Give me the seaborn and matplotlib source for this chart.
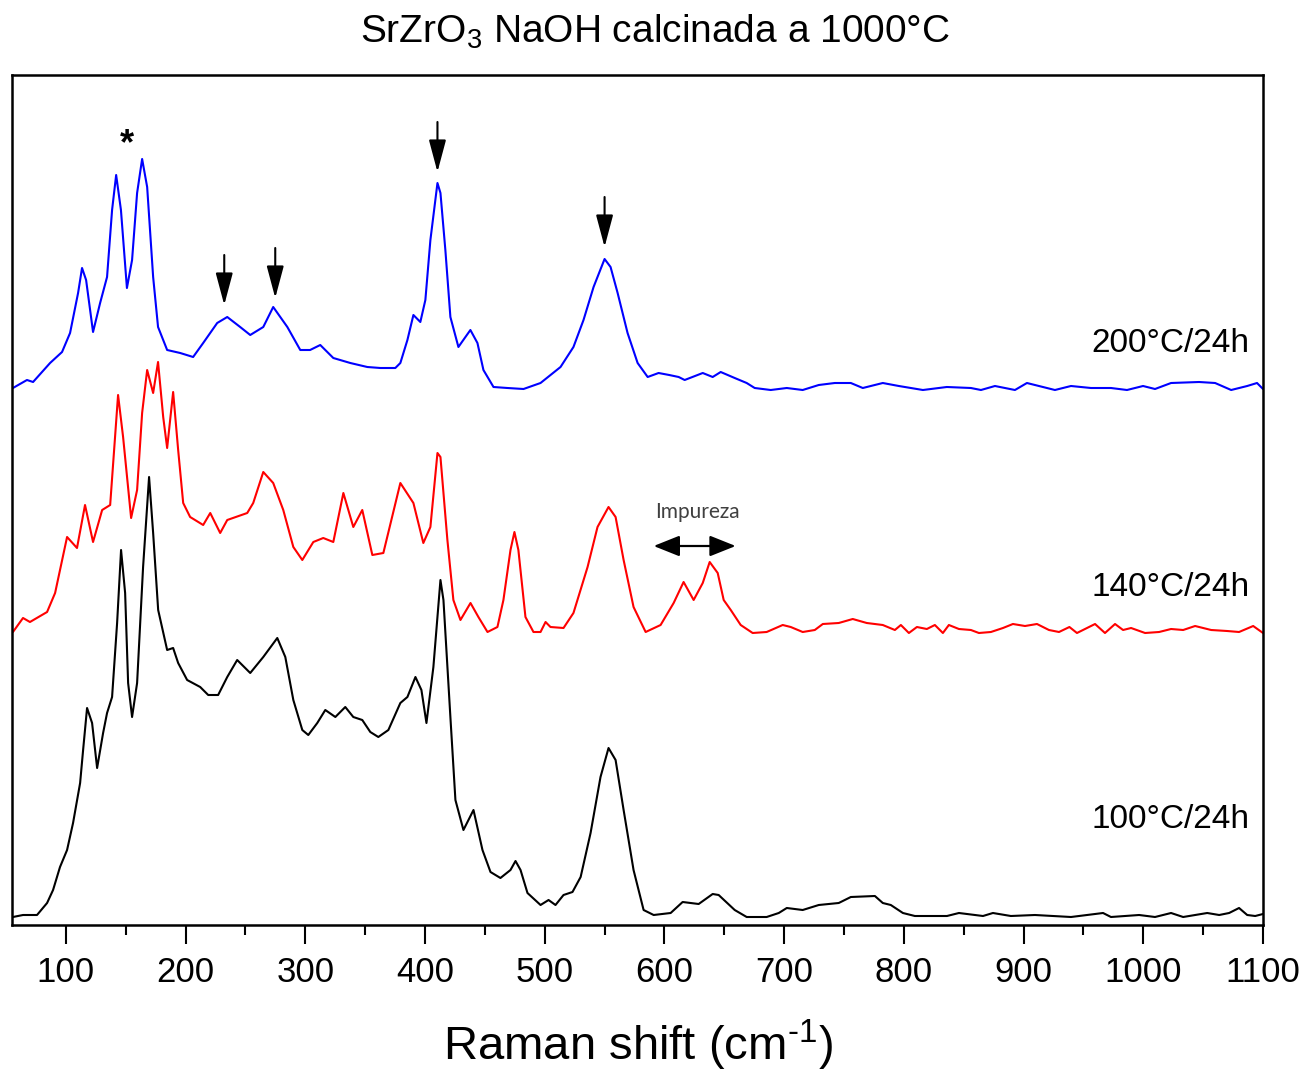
import numpy as np
import pandas as pd
import matplotlib
matplotlib.use("Agg")
import matplotlib.pyplot as plt
import seaborn as sns

# Raman spectra (Raman shift in cm-1, intensity in a.u. before stacking offset)
spec_200 = [
    (55.8, 7), (67.5, 15), (72.6, 13), (86.8, 32), (96.8, 43), (103.5, 62), (110.2, 102),
    (113.5, 127), (116.9, 115), (122.7, 63), (128.6, 92), (134.4, 118), (138.6, 185),
    (142.0, 220), (146.0, 185), (151.0, 107), (155.3, 135), (159.5, 202), (163.7, 236),
    (167.9, 208), (172.9, 118), (177.0, 68), (184.6, 45), (195.5, 42), (206.3, 38),
    (214.7, 52), (226.4, 72), (234.8, 78), (245.6, 68), (254.0, 60), (264.9, 68),
    (273.2, 88), (285.0, 68), (295.8, 45), (304.0, 45), (312.5, 50), (323.4, 37),
    (337.6, 32), (351.8, 28), (362.7, 27), (375.2, 27), (379.4, 32), (385.3, 55),
    (390.3, 80), (396.1, 73), (400.3, 95), (404.5, 155), (410.4, 212), (412.9, 202),
    (417.0, 145), (421.2, 78), (427.9, 48), (432.0, 55), (437.9, 65), (443.8, 52),
    (448.8, 25), (457.2, 8), (468.9, 7), (482.3, 6), (496.5, 12), (513.2, 28),
    (524.0, 48), (532.4, 75), (540.8, 108), (550.0, 136), (555.0, 128), (560.9, 102),
    (569.2, 62), (577.6, 32), (586.0, 18), (595.1, 22), (604.0, 20), (611.9, 18),
    (616.9, 15), (632.0, 22), (640.3, 18), (647.0, 23), (658.7, 17), (668.7, 12),
    (675.4, 7), (688.8, 5), (702.2, 7), (715.5, 5), (728.9, 10), (742.3, 12),
    (755.7, 12), (765.7, 7), (782.4, 12), (795.8, 9), (815.9, 5), (835.9, 8),
    (856.0, 7), (864.4, 5), (876.1, 9), (892.8, 5), (902.8, 12), (926.2, 5),
    (939.6, 9), (956.3, 7), (973.0, 7), (986.4, 5), (999.8, 9), (1009.8, 6),
    (1023.2, 12), (1046.6, 13), (1060.0, 12), (1073.4, 5), (1086.8, 9), (1095.0, 12),
    (1100.0, 6),
]

spec_140 = [
    (55.8, 13), (64.2, 27), (70.0, 23), (84.3, 33), (91.0, 52), (95.1, 75), (101.0, 108),
    (109.3, 97), (116.0, 140), (122.7, 103), (130.3, 135), (137.0, 140), (143.6, 250),
    (147.8, 208), (154.5, 127), (159.5, 155), (163.7, 232), (167.9, 275), (172.9, 252),
    (177.0, 283), (181.3, 228), (184.6, 197), (189.6, 253), (193.8, 195), (198.0, 142),
    (203.8, 128), (214.7, 120), (220.6, 132), (228.9, 112), (234.8, 125), (251.5, 132),
    (256.5, 142), (264.9, 173), (273.2, 162), (281.6, 135), (290.0, 98), (297.5, 85),
    (306.7, 103), (315.0, 107), (323.4, 103), (331.8, 152), (340.1, 118), (347.6, 135),
    (356.0, 90), (365.2, 92), (379.4, 162), (390.3, 142), (398.6, 102), (404.5, 118),
    (410.4, 192), (412.9, 188), (418.7, 105), (423.7, 45), (429.6, 25), (438.0, 42),
    (444.6, 28), (452.2, 13), (460.5, 18), (465.5, 45), (471.4, 95), (474.7, 113),
    (478.0, 95), (483.9, 28), (490.6, 13), (496.5, 13), (500.7, 23), (504.8, 18),
    (515.7, 17), (524.0, 32), (535.8, 78), (544.1, 118), (553.3, 138), (559.2, 128),
    (565.9, 85), (574.2, 38), (584.3, 13), (596.8, 20), (607.7, 42), (616.0, 63),
    (624.4, 45), (632.0, 62), (637.8, 83), (644.5, 72), (649.5, 45), (655.4, 35),
    (663.7, 20), (673.7, 12), (685.4, 13), (698.8, 20), (705.5, 18), (715.5, 13),
    (725.6, 15), (732.3, 21), (745.6, 22), (757.3, 26), (769.0, 22), (782.4, 20),
    (792.5, 15), (797.5, 20), (804.2, 12), (810.9, 18), (819.2, 16), (825.9, 20),
    (832.6, 12), (837.6, 20), (846.0, 16), (856.0, 15), (862.7, 12), (872.7, 13),
    (882.8, 17), (891.1, 21), (901.2, 19), (911.2, 21), (921.2, 15), (929.6, 13),
    (938.3, 18), (944.6, 12), (951.3, 16), (959.7, 21), (968.0, 12), (976.4, 21),
    (983.1, 15), (989.8, 17), (1001.5, 12), (1013.2, 13), (1023.2, 16), (1033.3, 15),
    (1043.3, 19), (1056.7, 15), (1070.0, 14), (1080.0, 13), (1091.8, 19), (1100.0, 12),
]

spec_100 = [
    (55.8, 8), (64.2, 10), (75.9, 10), (84.3, 22), (89.3, 35), (95.1, 58), (101.0, 75),
    (106.0, 102), (111.9, 142), (114.4, 175), (117.7, 217), (121.9, 202), (126.1, 157),
    (131.1, 192), (134.4, 212), (138.6, 228), (142.8, 302), (146.1, 375), (149.5, 332),
    (152.0, 242), (155.3, 208), (159.5, 242), (164.5, 358), (169.5, 448), (172.9, 392),
    (177.1, 315), (184.6, 275), (189.6, 277), (193.8, 262), (201.3, 245), (212.2, 238),
    (218.9, 230), (227.2, 230), (234.8, 248), (243.1, 265), (254.0, 252), (264.9, 268),
    (276.6, 287), (283.3, 268), (290.0, 225), (297.5, 195), (302.5, 190), (310.0, 202),
    (316.7, 215), (325.1, 208), (333.4, 218), (340.1, 208), (347.6, 205), (354.3, 193),
    (361.0, 188), (369.4, 195), (379.4, 222), (385.3, 228), (392.0, 248), (397.0, 235),
    (401.2, 202), (407.0, 258), (412.9, 345), (415.4, 325), (421.2, 208), (425.4, 125),
    (432.1, 95), (440.5, 115), (448.0, 75), (454.7, 53), (463.0, 47), (471.4, 55),
    (475.6, 64), (479.8, 55), (485.6, 32), (496.5, 20), (503.2, 25), (509.0, 20),
    (515.7, 30), (523.2, 33), (530.0, 48), (538.3, 92), (546.6, 148), (553.3, 177),
    (559.2, 165), (565.9, 115), (574.2, 55), (582.6, 15), (591.0, 10), (605.2, 12),
    (615.2, 23), (628.6, 21), (640.3, 31), (645.3, 30), (658.7, 15), (668.7, 8),
    (685.4, 8), (695.5, 12), (702.2, 17), (715.5, 15), (728.9, 20), (745.6, 22),
    (755.7, 28), (775.8, 29), (782.4, 22), (789.1, 20), (799.2, 12), (809.2, 9),
    (836.0, 9), (846.0, 12), (866.1, 9), (874.4, 12), (889.4, 9), (909.5, 10),
    (939.6, 8), (953.0, 10), (966.4, 12), (973.0, 8), (996.5, 10), (1009.8, 8),
    (1023.2, 12), (1033.3, 8), (1053.4, 12), (1063.4, 10), (1071.7, 12), (1080.0, 17),
    (1086.8, 10), (1093.5, 9), (1100.0, 11),
]

samples = ["200°C/24h", "140°C/24h", "100°C/24h"]
offsets = [530, 280, 0]
colors = ["#0000ff", "#ff0000", "#000000"]
label_heights = [582, 338, 105]

# Marked bands (cm-1) and their arrow tip heights on the stacked scale
arrow_pos = [232.3, 274.9, 410.4, 550.0]
arrow_tip = [620, 627, 753, 678]
arrow_len = 50

xticks = [100, 200, 300, 400, 500, 600, 700, 800, 900, 1000, 1100]

sns.set_style("ticks")
plt.rcParams["font.family"] = ["Liberation Sans", "DejaVu Sans"]
plt.rcParams["mathtext.fontset"] = "custom"
plt.rcParams["mathtext.rm"] = "Liberation Sans"
plt.rcParams["mathtext.it"] = "Liberation Sans:italic"
plt.rcParams["mathtext.bf"] = "Liberation Sans:bold"
plt.rcParams["axes.unicode_minus"] = False
plt.rcParams["text.color"] = "black"
plt.rcParams["axes.labelcolor"] = "black"
plt.rcParams["xtick.color"] = "black"
plt.rcParams["xtick.labelcolor"] = "black"

fig = plt.figure(figsize=(13.10, 10.73), dpi=100)
ax = fig.add_axes([12 / 1310, 1 - 925 / 1073, (1263 - 12) / 1310, (925 - 75) / 1073])

frames = []
for name, spec, off in zip(samples, [spec_200, spec_140, spec_100], offsets):
    df = pd.DataFrame(spec, columns=["shift", "intensity"])
    df["stacked"] = df["intensity"] + off
    df["sample"] = name
    frames.append(df)
data = pd.concat(frames, ignore_index=True)

sns.lineplot(data=data, x="shift", y="stacked", hue="sample", palette=dict(zip(samples, colors)),
             hue_order=samples, estimator=None, sort=False, linewidth=1.5, legend=False, ax=ax)
for line in ax.get_lines():
    line.set_solid_joinstyle("round")

for name, yl in zip(samples, label_heights):
    ax.text(1089, yl, name, ha="right", va="center", fontsize=24, color="black")

# markers for the perovskite bands
for xp, yt in zip(arrow_pos, arrow_tip):
    ax.annotate("", xy=(xp, yt), xytext=(xp, yt + arrow_len),
                arrowprops=dict(arrowstyle="-|>,head_length=0.9,head_width=0.24",
                                color="black", lw=1.5, shrinkA=0, shrinkB=0,
                                mutation_scale=22))
ax.text(151, 780, "*", ha="center", va="center", fontsize=26, fontweight="bold", color="black")

# impurity region
ax.annotate("", xy=(591, 379), xytext=(659.5, 379),
            arrowprops=dict(arrowstyle="<|-|>,head_length=0.8,head_width=0.32",
                            color="black", lw=1.6, shrinkA=0, shrinkB=0, mutation_scale=20))
ax.text(627.7, 413, "Impureza", ha="center", va="center", fontsize=15,
        color="#404040", family=["Lato", "DejaVu Sans"])

ax.set_xlim(55, 1100)
ax.set_ylim(0, 850)
ax.set_xticks(xticks)
ax.set_xticks(np.arange(150, 1100, 100), minor=True)
ax.set_yticks([])
ax.tick_params(axis="x", which="major", direction="out", length=14, width=1.5,
               labelsize=25, pad=8, top=False, colors="black")
ax.tick_params(axis="x", which="minor", direction="out", length=7, width=1.5, top=False,
               colors="black")
for sp in ax.spines.values():
    sp.set_linewidth(1.8)
    sp.set_color("black")

ax.set_xlabel(r"Raman shift (cm$^{\mathregular{\text{-}1}}$)", fontsize=34, labelpad=21)
ax.set_ylabel("")
fig.text(0.5, 1 - 32 / 1073, r"SrZrO$_{\mathregular{3}}$ NaOH calcinada a 1000°C",
         ha="center", va="center", fontsize=28)

fig.savefig("out.png", dpi=100)
